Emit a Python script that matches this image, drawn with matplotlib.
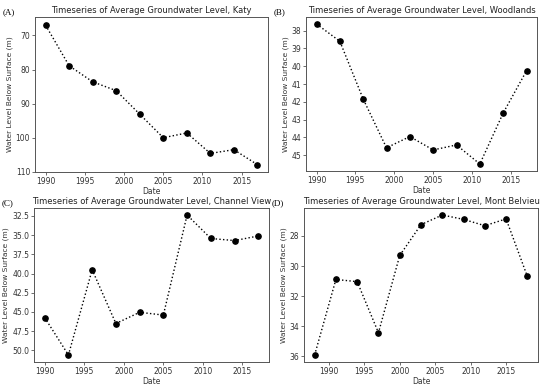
import matplotlib
matplotlib.use("Agg")
import matplotlib.pyplot as plt

# Data
katyYears = [1990, 1993, 1996, 1999, 2002, 2005, 2008, 2011, 2014, 2017]
katyLevels = [67.0, 78.9, 83.6, 86.2, 93.1, 100.0, 98.6, 104.6, 103.5, 107.9]

woodYears = [1990, 1993, 1996, 1999, 2002, 2005, 2008, 2011, 2014, 2017]
woodLevels = [37.63, 38.60, 41.84, 44.58, 43.95, 44.70, 44.42, 45.49, 42.63, 40.26]

chanYears = [1990, 1993, 1996, 1999, 2002, 2005, 2008, 2011, 2014, 2017]
chanLevels = [45.73, 50.60, 39.50, 46.50, 45.04, 45.40, 32.37, 35.43, 35.70, 35.10]

montYears = [1988, 1991, 1994, 1997, 2000, 2003, 2006, 2009, 2012, 2015, 2018]
montLevels = [35.91, 30.89, 31.04, 34.43, 29.30, 27.25, 26.61, 26.90, 27.32, 26.87, 30.69]

katyTicks = [70, 80, 90, 100, 110]
woodTicks = [38, 39, 40, 41, 42, 43, 44, 45]
chanTicks = [32.5, 35.0, 37.5, 40.0, 42.5, 45.0, 47.5, 50.0]
montTicks = [28, 30, 32, 34, 36]

panels = [
    ("(A)", "Katy", katyYears, katyLevels, (35, 17, 268, 172), katyTicks, "%d", (110.05, 64.6)),
    ("(B)", "Woodlands", woodYears, woodLevels, (306, 17, 537, 171), woodTicks, "%d", None),
    ("(C)", "Channel View", chanYears, chanLevels, (34, 208, 269, 362), chanTicks, "%.1f", None),
    ("(D)", "Mont Belvieu", montYears, montLevels, (304, 208, 538, 362), montTicks, "%d", None),
]

W, H = 550.0, 388.0
fig = plt.figure(figsize=(5.5, 3.88), dpi=100)

for tag, name, years, levels, box, yticks, fmt, ylim in panels:
    x0, y0, x1, y1 = box
    ax = fig.add_axes([x0 / W, 1 - y1 / H, (x1 - x0) / W, (y1 - y0) / H])
    ax.plot(years, levels, linestyle=":", color="black", linewidth=1.0,
            marker="o", markersize=3.8)
    if ylim is not None:
        ax.set_ylim(ylim)
    else:
        ax.invert_yaxis()
    ax.set_xticks([1990, 1995, 2000, 2005, 2010, 2015])
    ax.set_yticks(yticks)
    ax.set_yticklabels([fmt % v for v in yticks])
    ax.tick_params(labelsize=5.5, length=2, width=0.5, pad=1.5, colors="#333333")
    for s in ax.spines.values():
        s.set_linewidth(0.7)
        s.set_color("#555555")
    ax.set_title("Timeseries of Average Groundwater Level, " + name,
                 fontsize=6.0, pad=3, color="#222222")
    ax.set_xlabel("Date", fontsize=5.5, labelpad=1, color="#333333")
    ax.set_ylabel("Water Level Below Surface (m)", fontsize=5.4, labelpad=2,
                  color="#333333")
    fig.text((x0 - 32) / W, 1 - (y0 - 5) / H, tag, fontsize=6.5,
             family="Liberation Serif", va="center", ha="left")

fig.savefig("out.png", dpi=100, facecolor="white")
